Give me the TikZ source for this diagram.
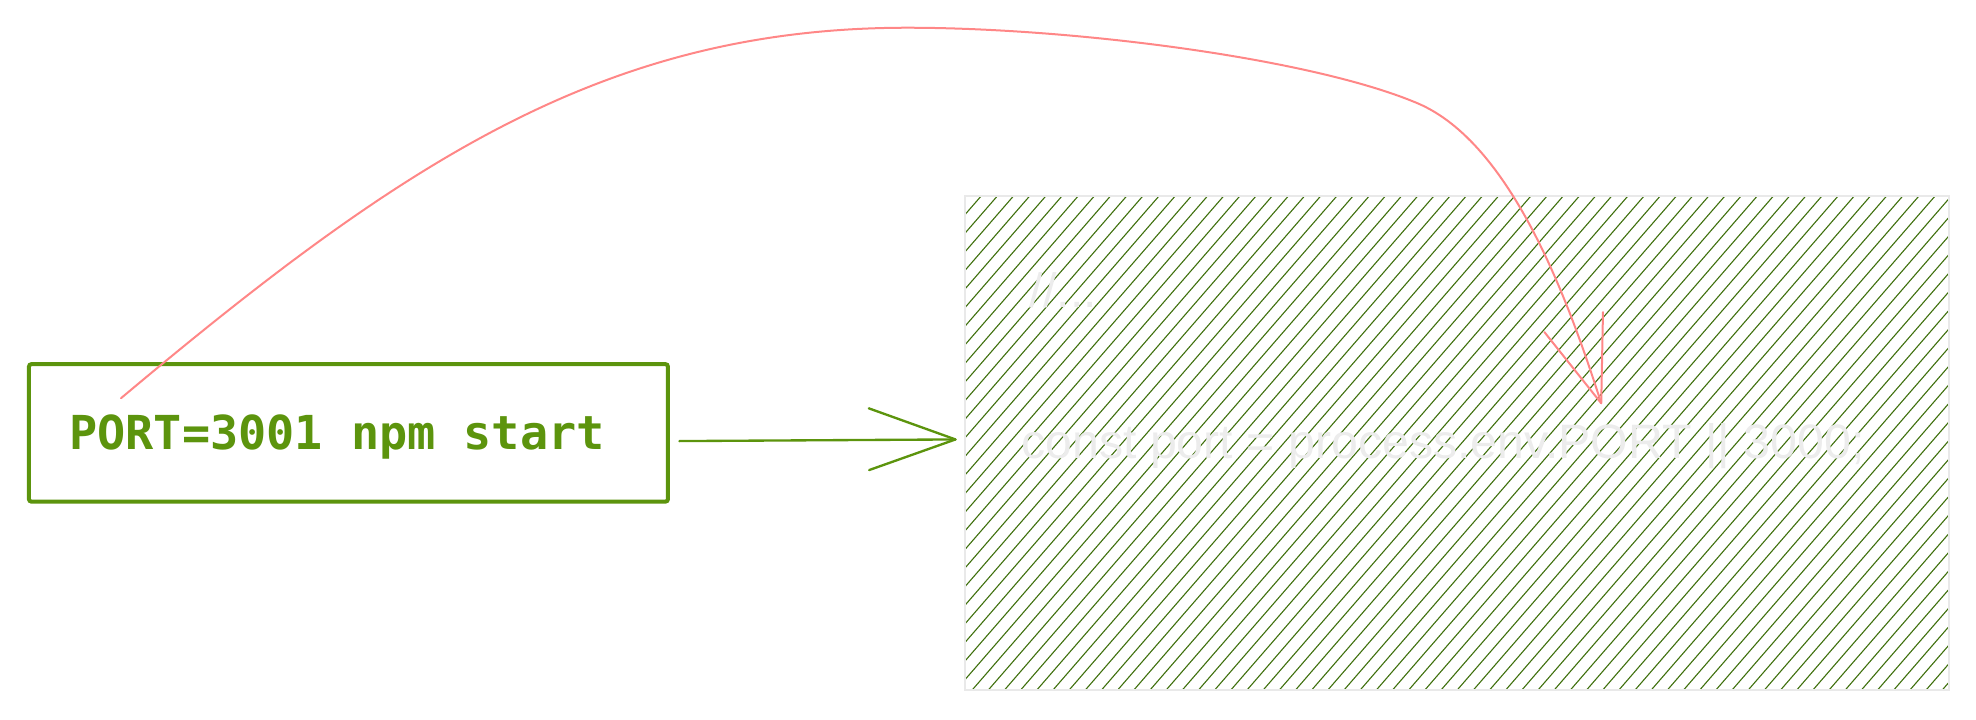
\documentclass[tikz,border=0pt]{standalone}
\usepackage{fontspec}
\setmainfont{Liberation Sans}
\newfontfamily\codemono{DejaVu Sans Mono}
\usetikzlibrary{calc}
\definecolor{cLime}{HTML}{5C940D}
\definecolor{cHatch}{HTML}{3F700D}
\definecolor{cPink}{HTML}{FF8787}
\definecolor{cBorder}{HTML}{E9E9E9}
\definecolor{cGhost}{HTML}{ECECEC}
\newcommand{\msp}{\hspace*{0.602em}}
\tikzset{
  lboxstyle/.style={draw=cLime, line width=2pt, rounded corners=1.2pt, rectangle,
    minimum width=319.4pt, minimum height=68.7pt, text width=279.1pt, inner xsep=20.16pt,
    align=left, text height=22pt, text depth=5pt, text=cLime,
    font=\codemono\bfseries\fontsize{23.4pt}{27pt}\selectfont},
  hboxstyle/.style={rectangle, minimum width=491.4pt, minimum height=246.3pt, inner sep=0pt},
  hatchline/.style={draw=cHatch, line width=0.55pt},
  hborder/.style={draw=cBorder, line width=1pt},
  ghost/.style={text=cGhost, inner sep=0pt, anchor=base west,
    font=\fontsize{24.15pt}{28pt}\selectfont},
  greenline/.style={draw=cLime, line width=1.17pt, line cap=round, line join=round},
  pinkline/.style={draw=cPink, line width=1pt, line cap=round, line join=round},
}
\begin{document}
\begin{tikzpicture}[x=0.63pt, y=-0.63pt]
\useasboundingbox (0,0) rectangle (1568,571.3);
% hatched box
\node[hboxstyle] (hbox) at (1156,351.5) {};
\begin{scope}
  \clip (hbox.south west) rectangle (hbox.north east);
  \foreach \k in {-1,...,87} {
    \pgfmathsetmacro\ya{170+14.76*\k+5.75}
    \pgfmathsetmacro\yb{170+14.76*\k-903.1}
    \draw[hatchline] (761,\ya) -- (1551,\yb);
  }
\end{scope}
\draw[hborder] (hbox.south west) rectangle (hbox.north east);
\node[ghost] (t1) at (817,244) {//...};
\node[ghost] (t2) at (810,363.5) {const port = process.env.PORT || 3000;};
% left box
\node[lboxstyle] (lbox) at (276.5,343.5) {PORT=3001\msp npm\msp start};
% green arrow
\coordinate (gs) at ($(lbox.east)+(7.5,6.5)$);
\coordinate (gt) at ($(hbox.west)+(-7.5,-2.8)$);
\draw[greenline] (gs) -- (gt);
\draw[greenline] ($(gt)+(-68.8,-24.7)$) -- (gt) -- ($(gt)+(-68.5,24.3)$);
% pink curve
\coordinate (ps) at (96,316);
\coordinate (pt) at (1270.6,320);
\draw[pinkline] (ps) .. controls (320,128) and (480,22) .. (720,22)
  .. controls (850,22) and (1040,46) .. (1125,82)
  .. controls (1200,114) and (1245,240) .. (pt);
\draw[pinkline] ($(pt)+(-45.1,-56.5)$) -- (pt) -- ($(pt)+(1.4,-72.4)$);
\end{tikzpicture}
\end{document}
